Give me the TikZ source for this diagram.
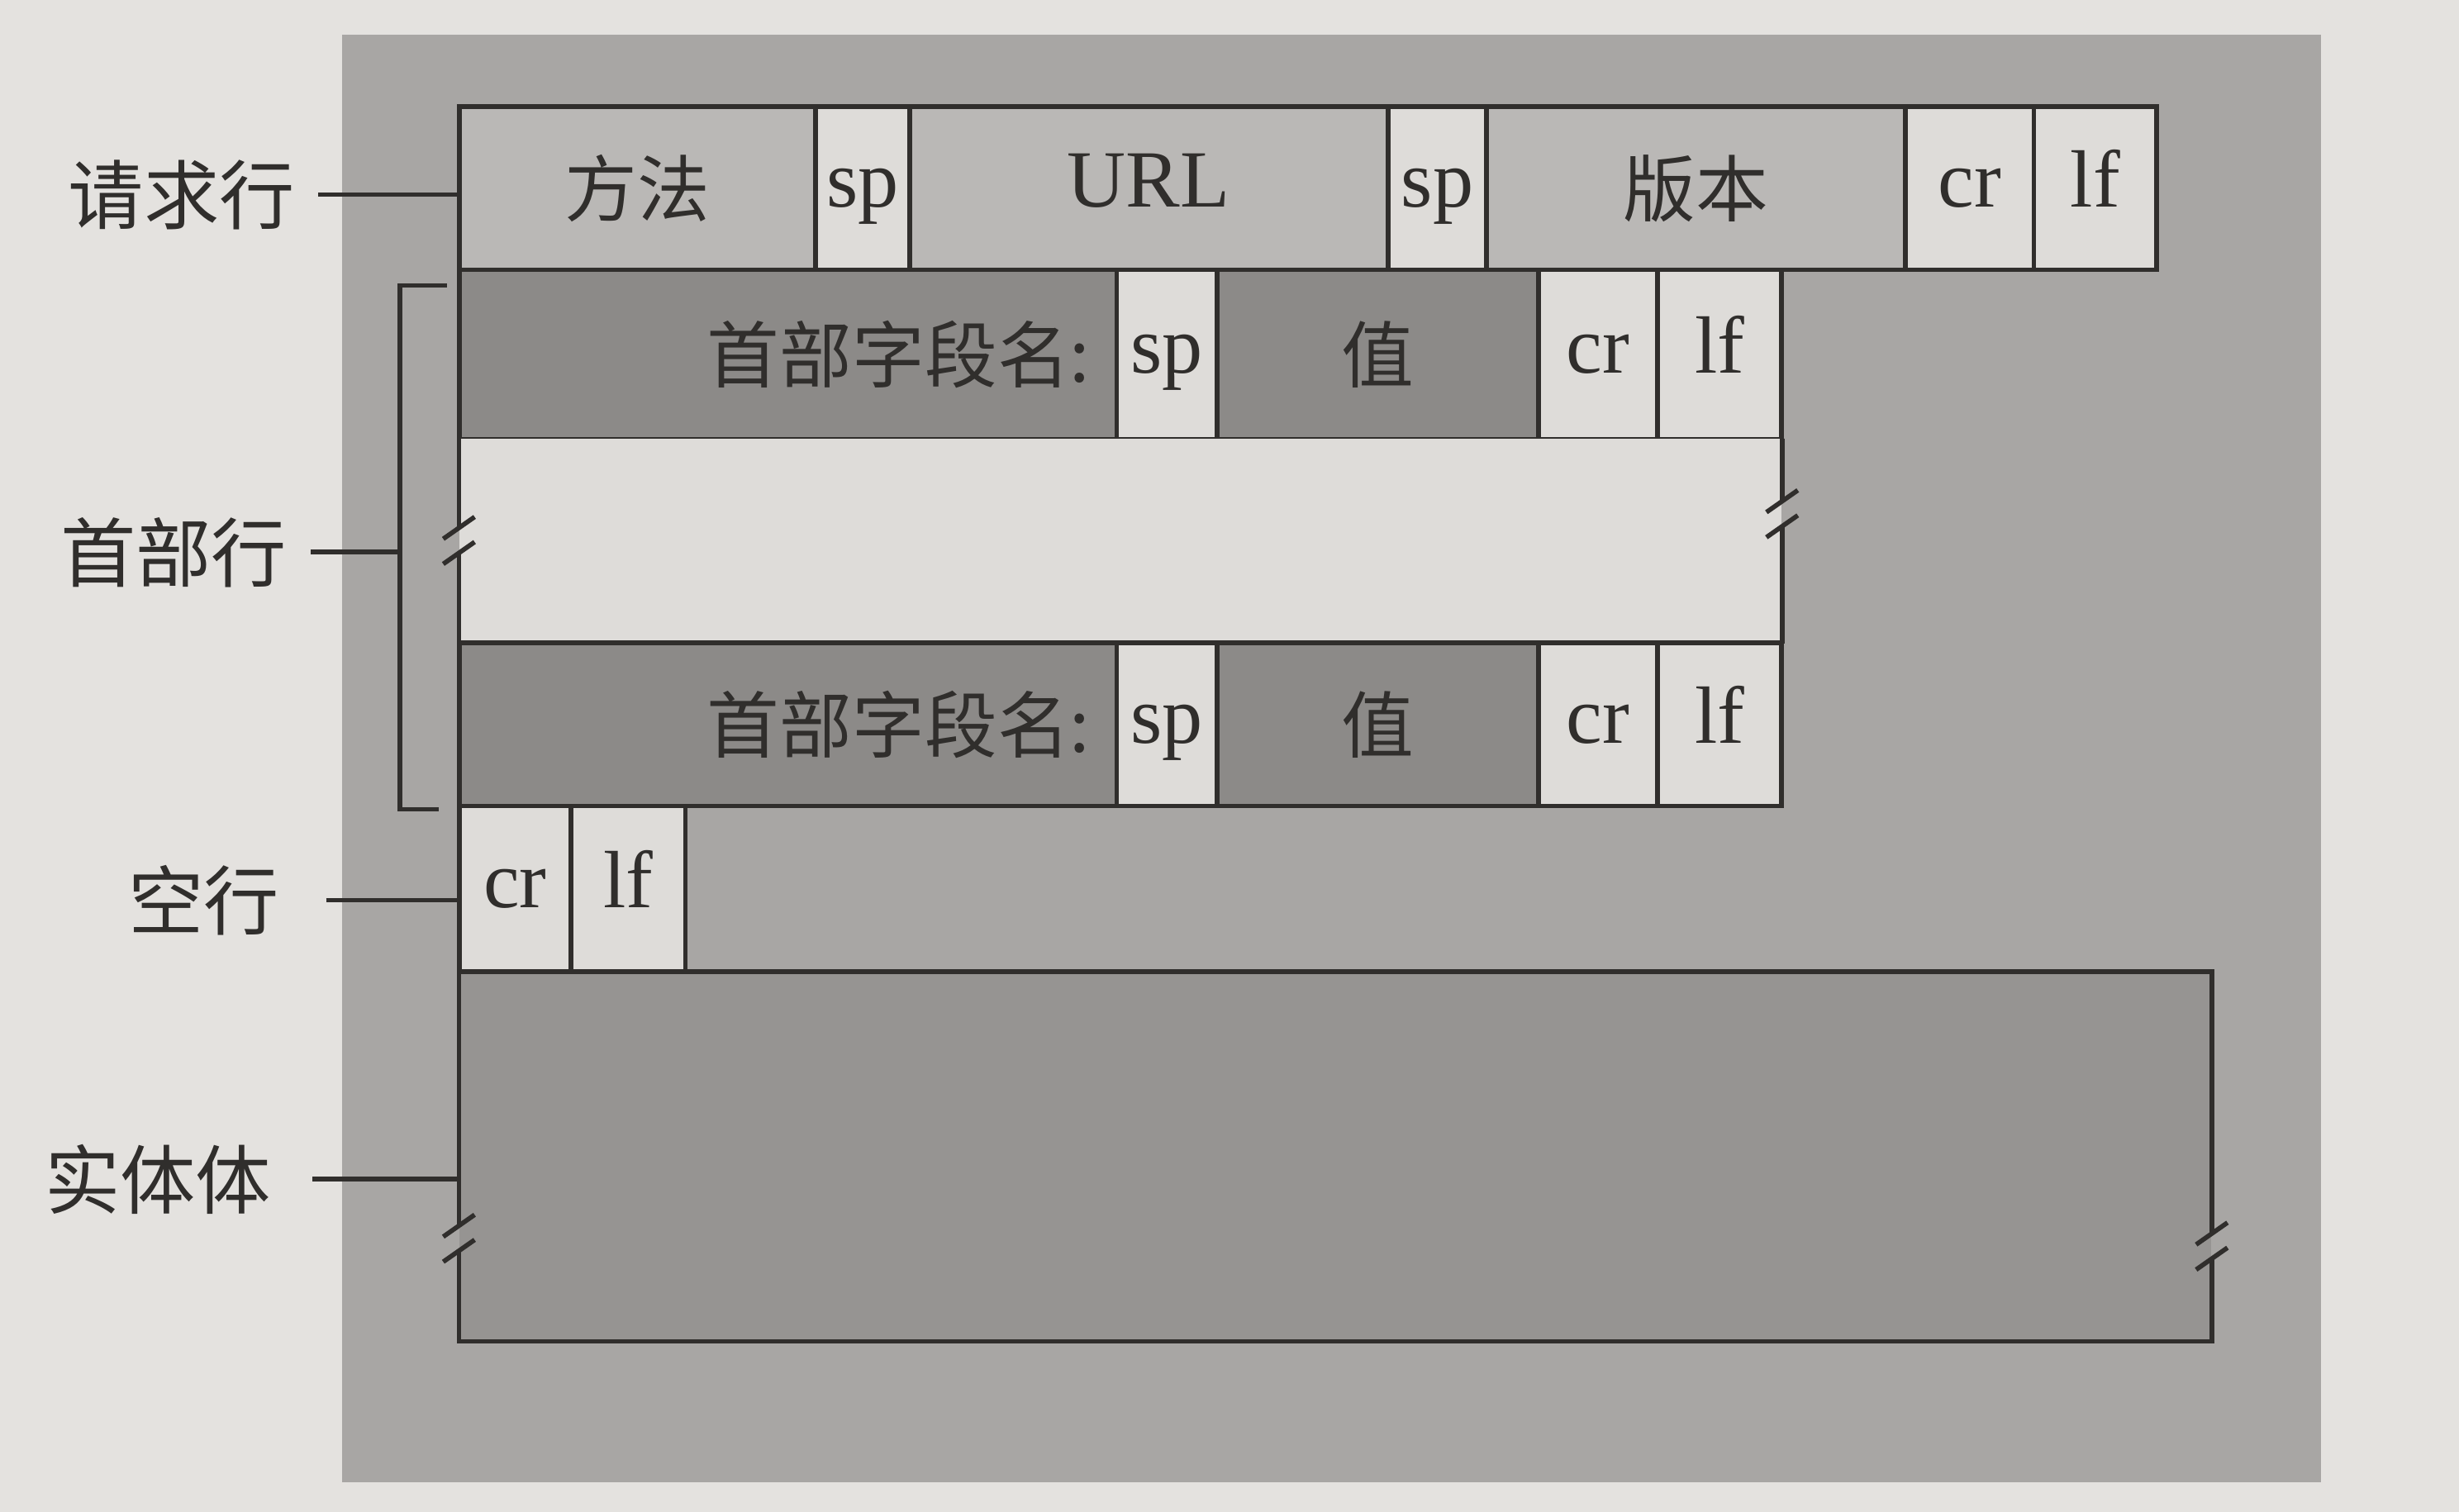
\documentclass[tikz,border=0pt]{standalone}
\usepackage{fontspec}
\setmainfont{Liberation Serif}
\newfontfamily\cjk{Noto Sans CJK SC}
\usetikzlibrary{fit,calc}
\definecolor{pagebg}{RGB}{228,226,223}
\definecolor{panel}{RGB}{168,166,164}
\definecolor{lightcell}{RGB}{186,184,182}
\definecolor{whitecell}{RGB}{222,220,217}
\definecolor{darkcell}{RGB}{140,138,136}
\definecolor{bodycell}{RGB}{150,148,146}
\definecolor{blankfill}{RGB}{222,220,217}
\definecolor{ink}{RGB}{48,46,44}
\begin{document}
\begin{tikzpicture}[x=0.019cm,y=-0.019cm,
  cell/.style={draw=ink, line width=1.6pt, inner sep=0pt},
  lightc/.style={cell, fill=lightcell},
  whitec/.style={cell, fill=whitecell},
  darkc/.style={cell, fill=darkcell},
  lat/.style={font=\fontsize{28}{32}\selectfont, text=ink, text height=19pt, text depth=6pt, inner sep=0pt},
  zh/.style={font=\cjk\fontsize{25}{30}\selectfont, text=ink, text height=19pt, text depth=0pt, inner sep=0pt},
  latc/.style={label={[lat]center:#1}},
  zhc/.style={label={[zh]center:#1}},
  lbl/.style={font=\cjk\fontsize{26}{30}\selectfont, text=ink, text height=20pt, text depth=0pt, inner sep=2pt, anchor=east},
  lead/.style={draw=ink, line width=1.6pt},
  brk/.style={draw=ink, line width=1.6pt}]
\fill[pagebg] (0,0) rectangle (1568,964);
\useasboundingbox (0,0) rectangle (1568,964);
\fill[panel] (218,22) rectangle (1480,945);

% request line
\node[lightc, fit={(293,68)(520,172)}, zhc=方法] (meth) {};
\node[whitec, fit={(520,68)(580,172)}, latc=sp] (sp1) {};
\node[lightc, fit={(580,68)(885,172)}, latc=URL] (url) {};
\node[whitec, fit={(885,68)(948,172)}, latc=sp] (sp2) {};
\node[lightc, fit={(948,68)(1215,172)}, zhc=版本] (ver) {};
\node[whitec, fit={(1215,68)(1297,172)}, latc=cr] (cr1) {};
\node[whitec, fit={(1297,68)(1375,172)}, latc=lf] (lf1) {};

% header line 1
\node[darkc, fit={(293,172)(712,280)}] (hk1) {};
\node[zh, anchor=east] (hk1t) at ($(hk1.east)+(-18,0)$) {首部字段名:};
\node[whitec, fit={(712,172)(776,280)}, latc=sp] (hsp1) {};
\node[darkc, fit={(776,172)(981,280)}, zhc=值] (hv1) {};
\node[whitec, fit={(981,172)(1057,280)}, latc=cr] (hcr1) {};
\node[whitec, fit={(1057,172)(1136,280)}, latc=lf] (hlf1) {};

% blank area between header lines
\node[fill=blankfill, inner sep=0pt, fit={(293,280)(1136,410)}] (gap) {};
\draw[brk] (gap.north west) -- ($(gap.north west)+(0,57)$);
\draw[brk] ($(gap.north west)+(0,73)$) -- (gap.south west);
\draw[brk] ($(gap.north west)+(-10,64)$) -- ++(20,-14);
\draw[brk] ($(gap.north west)+(-10,80)$) -- ++(20,-14);
\draw[brk] (gap.north east) -- ($(gap.north east)+(0,40)$);
\draw[brk] ($(gap.north east)+(0,56)$) -- (gap.south east);
\draw[brk] ($(gap.north east)+(-10,47)$) -- ++(20,-14);
\draw[brk] ($(gap.north east)+(-10,63)$) -- ++(20,-14);

% header line 2
\node[darkc, fit={(293,410)(712,514)}] (hk2) {};
\node[zh, anchor=east] (hk2t) at ($(hk2.east)+(-18,0)$) {首部字段名:};
\node[whitec, fit={(712,410)(776,514)}, latc=sp] (hsp2) {};
\node[darkc, fit={(776,410)(981,514)}, zhc=值] (hv2) {};
\node[whitec, fit={(981,410)(1057,514)}, latc=cr] (hcr2) {};
\node[whitec, fit={(1057,410)(1136,514)}, latc=lf] (hlf2) {};

% empty line
\node[whitec, fit={(293,514)(364,620)}, latc=cr] (ecr) {};
\node[whitec, fit={(364,514)(437,620)}, latc=lf] (elf) {};

% entity body
\node[fill=bodycell, inner sep=0pt, fit={(293,620)(1410,855)}] (body) {};
\draw[brk] (body.north west) -- (body.north east) -- ($(body.north east)+(0,167)$);
\draw[brk] ($(body.north east)+(0,183)$) -- (body.south east) -- (body.south west) -- ($(body.north west)+(0,178)$);
\draw[brk] (body.north west) -- ($(body.north west)+(0,162)$);
\draw[brk] ($(body.north west)+(-10,169)$) -- ++(20,-14);
\draw[brk] ($(body.north west)+(-10,185)$) -- ++(20,-14);
\draw[brk] ($(body.north east)+(-10,174)$) -- ++(20,-14);
\draw[brk] ($(body.north east)+(-10,190)$) -- ++(20,-14);

% bracket for header lines
\coordinate (brtop) at (255,182);
\coordinate (brbot) at (255,516);
\coordinate (brmid) at (255,352);
\coordinate (brtoptick) at (285,182);
\coordinate (brbottick) at (280,516);
\draw[lead] (brtoptick) -- (brtop) -- (brbot) -- (brbottick);

% labels
\node[lbl] (lreq) at (192,124) {请求行};
\node[lbl] (lhdr) at (187,352) {首部行};
\node[lbl] (lemp) at (182,574) {空行};
\node[lbl] (lbody) at (177,752) {实体体};
\draw[lead] ([xshift=6]lreq.east) -- (lreq.east -| meth.west);
\draw[lead] ([xshift=6]lhdr.east) -- (brmid);
\draw[lead] ([xshift=14]lemp.east) -- (lemp.east -| ecr.west);
\draw[lead] ([xshift=12]lbody.east) -- (lbody.east -| body.west);
\end{tikzpicture}
\end{document}
